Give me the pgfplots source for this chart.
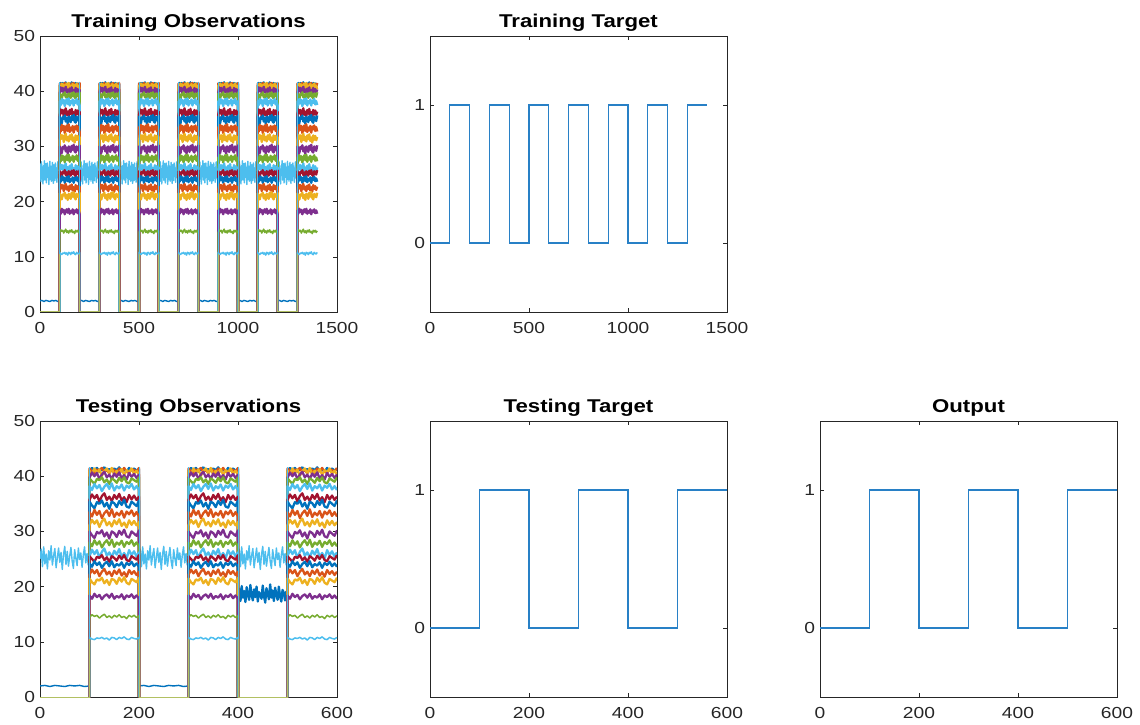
\documentclass[border=0pt]{standalone}
\usepackage{pgfplots}
\pgfplotsset{compat=1.18}
\usepackage{pgfplotstable}
\usepackage{fontspec}
\setmainfont{Liberation Sans}[FakeStretch=1.2]
\definecolor{mB}{RGB}{0,114,189}
\definecolor{mO}{RGB}{217,83,25}
\definecolor{mY}{RGB}{237,177,32}
\definecolor{mP}{RGB}{126,47,142}
\definecolor{mG}{RGB}{119,172,48}
\definecolor{mL}{RGB}{77,190,238}
\definecolor{mR}{RGB}{162,20,47}
\definecolor{axc}{RGB}{38,38,38}
\definecolor{olv}{RGB}{178,192,98}
\definecolor{tgt}{RGB}{40,128,198}

% one "on" segment (x offset 0..100), 20 series
\pgfplotstableread{
x s1 s2 s3 s4 s5 s6 s7 s8 s9 s10 s11 s12 s13 s14 s15 s16 s17 s18 s19 s20
0 2 0 0 0 0 0 0 0 0 0 0 0 25.0 0 0 0 0 0 0 0
0 41.0 41.4 41.0 39.7 39.6 38.2 35.7 35.4 33.5 31.1 30.0 28.0 25.5 25.5 24.2 22.1 21.5 18.4 14.4 10.8
5 41.5 40.9 40.3 40.7 39.1 37.5 36.7 34.7 32.7 32.1 29.3 27.3 26.7 25.0 23.6 23.1 20.8 17.8 14.9 10.5
10 41.1 40.5 41.4 40.0 38.6 38.6 36.0 34.2 33.9 31.4 28.8 28.4 25.9 24.5 24.6 22.4 20.4 18.7 14.6 10.4
15 41.5 41.2 40.6 40.6 39.5 37.8 36.6 35.3 33.0 32.0 29.9 27.6 26.6 25.4 23.9 23.0 21.3 18.1 14.8 10.7
20 40.8 41.1 41.2 39.5 39.3 38.4 35.4 35.0 33.7 30.8 29.6 28.2 25.2 25.2 24.4 21.9 21.1 18.5 14.3 10.6
25 41.3 41.5 40.1 40.3 39.8 37.3 36.4 35.6 32.4 31.8 30.2 27.1 26.3 25.7 23.4 22.7 21.6 17.7 14.7 10.8
30 41.6 40.7 40.9 40.8 38.9 38.1 36.9 34.5 33.3 32.3 29.1 27.9 26.9 24.8 24.1 23.2 20.6 18.3 15.0 10.5
35 41.0 41.2 41.4 39.8 39.4 38.6 35.7 35.2 33.8 31.1 29.8 28.4 25.6 25.3 24.5 22.2 21.2 18.6 14.4 10.7
40 41.3 40.5 40.5 40.3 38.6 37.7 36.3 34.1 32.8 31.7 28.7 27.5 26.2 24.5 23.7 22.7 20.3 18.0 14.7 10.3
45 40.9 41.3 41.5 39.5 39.6 38.7 35.5 35.4 34.0 30.9 30.0 28.5 25.3 25.5 24.6 21.9 21.4 18.7 14.3 10.8
50 41.4 41.1 40.2 40.5 39.3 37.4 36.6 35.1 32.6 32.0 29.7 27.2 26.5 25.2 23.5 22.9 21.2 17.8 14.8 10.7
55 41.1 40.6 41.0 39.9 38.8 38.2 35.9 34.4 33.4 31.3 29.0 28.0 25.8 24.7 24.1 22.3 20.5 18.3 14.5 10.4
60 41.6 41.4 40.6 40.7 39.7 37.8 36.8 35.5 32.9 32.2 30.1 27.6 26.8 25.6 23.8 23.1 21.6 18.0 14.9 10.8
65 40.9 40.9 41.3 39.6 39.1 38.5 35.6 34.8 33.7 31.0 29.4 28.3 25.4 25.0 24.4 22.0 20.9 18.6 14.4 10.6
70 41.2 41.5 40.2 40.2 39.8 37.4 36.2 35.7 32.5 31.6 30.3 27.2 26.1 25.7 23.4 22.6 21.7 17.7 14.6 10.9
75 40.8 40.8 41.1 39.4 38.9 38.3 35.3 34.5 33.6 30.7 29.1 28.1 25.1 24.8 24.3 21.8 20.7 18.4 14.2 10.5
80 41.5 40.6 40.7 40.6 38.7 37.9 36.6 34.3 33.1 32.0 28.9 27.7 26.6 24.6 23.9 23.0 20.4 18.1 14.8 10.4
85 41.0 41.3 41.4 39.9 39.6 38.6 35.8 35.4 33.8 31.2 30.0 28.4 25.7 25.5 24.5 22.3 21.4 18.6 14.5 10.8
90 41.4 41.1 40.4 40.4 39.3 37.6 36.5 35.0 32.8 31.9 29.6 27.4 26.4 25.2 23.7 22.8 21.1 17.9 14.8 10.6
95 41.0 40.8 41.0 39.7 39.0 38.2 35.7 34.6 33.5 31.1 29.2 28.0 25.5 24.9 24.2 22.1 20.8 18.4 14.4 10.5
100 41.3 41.5 40.3 40.3 39.8 37.5 36.3 35.6 32.7 31.7 30.2 27.3 26.2 25.7 23.6 22.7 21.6 17.8 14.7 10.8
100 2 0 0 0 0 0 0 0 0 0 0 0 25.0 0 0 0 0 0 0 0
}\TonSeg

% light-blue noisy series in an "off" segment
\pgfplotstableread{
x v
0 25.0
2.5 26.8
5 23.6
7.5 27.2
10 24.1
12.5 25.9
15 23.2
17.5 26.5
20 24.8
22.5 27.4
25 23.9
27.5 25.6
30 26.9
32.5 23.4
35 25.2
37.5 27.0
40 24.4
42.5 26.2
45 23.1
47.5 25.8
50 27.3
52.5 24.0
55 26.4
57.5 23.7
60 25.5
62.5 27.1
65 24.6
67.5 23.3
70 26.7
72.5 25.1
75 23.8
77.5 27.0
80 24.9
82.5 26.1
85 23.5
87.5 25.7
90 27.2
92.5 24.3
95 26.0
97.5 23.9
100 25.0
}\TofLB

% blue series near 2 in an "off" segment
\pgfplotstableread{
x v
0 2.0
10 2.1
20 1.9
30 2.1
40 2.0
50 1.9
60 2.1
70 2.0
80 2.1
90 1.9
100 2.0
}\TofB

% testing 400-500: blue series near 18.5
\pgfplotstableread{
x v
0 18.2
2.5 19.6
5 17.4
7.5 20.1
10 18.0
12.5 19.2
15 17.2
17.5 19.9
20 18.6
22.5 17.6
25 20.3
27.5 18.4
30 17.5
32.5 19.5
35 18.1
37.5 20.0
40 17.3
42.5 19.0
45 18.5
47.5 17.8
50 20.2
52.5 18.3
55 17.1
57.5 19.7
60 18.8
62.5 17.7
65 20.4
67.5 18.0
70 19.3
72.5 17.4
75 19.8
77.5 18.6
80 17.6
82.5 20.0
85 18.2
87.5 17.3
90 19.4
92.5 18.9
95 17.5
97.5 19.1
100 18.4
}\TAnom

\pgfplotsset{
  bs/.style={line width=2.3pt, line join=round},
  bt/.style={line width=1.5pt, line join=round},
  ns/.style={line width=1.4pt, line join=round},
  es/.style={line width=1pt},
  base/.style={
    scale only axis, width=297pt, height=276pt, anchor=south west,
    axis line style={axc, line width=0.8pt},
    tick style={axc, line width=0.6pt},
    tick align=inside, major tick length=4pt,
    ticklabel style={font=\fontsize{16}{18}\selectfont, text=axc},
    /pgf/number format/assume math mode=true,
    /pgf/number format/1000 sep={},
    scaled ticks=false,
    xticklabel style={yshift=-7pt},
    yticklabel style={xshift=-1.5pt},
    title style={font=\fontsize{18.5}{22}\selectfont\bfseries, text=black,
      at={(0.5,1)}, anchor=south, yshift=-2pt, inner sep=0pt},
    clip=true,
  },
}

\newcommand{\bands}[2]{%
  \addplot[mB,bs,#2] table[x expr=\thisrow{x}+#1,y=s1]{\TonSeg};
  \addplot[mO,bs,#2] table[x expr=\thisrow{x}+#1,y=s2]{\TonSeg};
  \addplot[mY,bs,#2] table[x expr=\thisrow{x}+#1,y=s3]{\TonSeg};
  \addplot[mP,bs,#2] table[x expr=\thisrow{x}+#1,y=s4]{\TonSeg};
  \addplot[mG,bs,#2] table[x expr=\thisrow{x}+#1,y=s5]{\TonSeg};
  \addplot[mL,bs,#2] table[x expr=\thisrow{x}+#1,y=s6]{\TonSeg};
  \addplot[mR,bs,#2] table[x expr=\thisrow{x}+#1,y=s7]{\TonSeg};
  \addplot[mB,bs,#2] table[x expr=\thisrow{x}+#1,y=s8]{\TonSeg};
  \addplot[mO,bs,#2] table[x expr=\thisrow{x}+#1,y=s9]{\TonSeg};
  \addplot[mY,bs,#2] table[x expr=\thisrow{x}+#1,y=s10]{\TonSeg};
  \addplot[mP,bs,#2] table[x expr=\thisrow{x}+#1,y=s11]{\TonSeg};
  \addplot[mG,bs,#2] table[x expr=\thisrow{x}+#1,y=s12]{\TonSeg};
  \addplot[mL,bs,#2] table[x expr=\thisrow{x}+#1,y=s13]{\TonSeg};
  \addplot[mR,bs,#2] table[x expr=\thisrow{x}+#1,y=s14]{\TonSeg};
  \addplot[mB,bs,#2] table[x expr=\thisrow{x}+#1,y=s15]{\TonSeg};
  \addplot[mO,bs,#2] table[x expr=\thisrow{x}+#1,y=s16]{\TonSeg};
  \addplot[mY,bs,#2] table[x expr=\thisrow{x}+#1,y=s17]{\TonSeg};
  \addplot[mP,bs,#2] table[x expr=\thisrow{x}+#1,y=s18]{\TonSeg};
  \addplot[mG,bt,#2] table[x expr=\thisrow{x}+#1,y=s19]{\TonSeg};
  \addplot[mL,bt,#2] table[x expr=\thisrow{x}+#1,y=s20]{\TonSeg};
}
\newcommand{\offseg}[1]{%
  \addplot[mL,ns] table[x expr=\thisrow{x}+#1,y=v]{\TofLB};
}
\newcommand{\offblue}[1]{%
  \addplot[mB,ns] table[x expr=\thisrow{x}+#1,y=v]{\TofB};
}

\begin{document}
\begin{tikzpicture}
\path[use as bounding box] (0pt,0pt) rectangle (1140pt,724pt);

% ---------------- Training Observations
\begin{axis}[base, at={(40pt,412pt)}, xmin=0, xmax=1500, ymin=0, ymax=50,
  xtick={0,500,1000,1500}, ytick={0,10,20,30,40,50},
  title={Training Observations}]
  \offseg{0}\offseg{200}\offseg{400}\offseg{600}\offseg{800}\offseg{1000}\offseg{1200}
  \offblue{0}\offblue{200}\offblue{400}\offblue{600}\offblue{800}\offblue{1000}\offblue{1200}
  \bands{100}{}\bands{300}{}\bands{500}{}\bands{700}{}\bands{900}{}\bands{1100}{}
  \bands{1300}{skip coords between index={22}{23}}
  \addplot[olv,es,unbounded coords=jump] coordinates {
    (0,0)(100,0)(100,10.5)(150,nan)(200,10.5)(200,0)(300,0)(300,10.5)(350,nan)
    (400,10.5)(400,0)(500,0)(500,10.5)(550,nan)(600,10.5)(600,0)(700,0)(700,10.5)(750,nan)
    (800,10.5)(800,0)(900,0)(900,10.5)(950,nan)(1000,10.5)(1000,0)(1100,0)(1100,10.5)(1150,nan)
    (1200,10.5)(1200,0)(1300,0)(1300,10.5)};
  \addplot[mL,es,unbounded coords=jump] coordinates {
    (100,10.5)(100,41.6)(150,nan)(200,41.6)(200,10.5)(250,nan)
    (300,10.5)(300,41.6)(350,nan)(400,41.6)(400,10.5)(450,nan)
    (500,10.5)(500,41.6)(550,nan)(600,41.6)(600,10.5)(650,nan)
    (700,10.5)(700,41.6)(750,nan)(800,41.6)(800,10.5)(850,nan)
    (900,10.5)(900,41.6)(950,nan)(1000,41.6)(1000,10.5)(1050,nan)
    (1100,10.5)(1100,41.6)(1150,nan)(1200,41.6)(1200,10.5)(1250,nan)
    (1300,10.5)(1300,41.6)};
\end{axis}

% ---------------- Training Target
\begin{axis}[base, at={(430pt,412pt)}, xmin=0, xmax=1500, ymin=-0.5, ymax=1.5,
  xtick={0,500,1000,1500}, ytick={0,1}, title={Training Target}]
  \addplot[tgt, line width=1.1pt, const plot] coordinates {
    (0,0)(100,1)(200,0)(300,1)(400,0)(500,1)(600,0)(700,1)
    (800,0)(900,1)(1000,0)(1100,1)(1200,0)(1300,1)(1400,1)};
\end{axis}

% ---------------- Testing Observations
\begin{axis}[base, at={(40pt,27pt)}, xmin=0, xmax=600, ymin=0, ymax=50,
  xtick={0,200,400,600}, ytick={0,10,20,30,40,50},
  title={Testing Observations}]
  \offseg{0}\offseg{200}\offseg{400}
  \offblue{0}\offblue{200}
  \addplot[mB,bs] table[x expr=\thisrow{x}+400,y=v]{\TAnom};
  \bands{100}{}\bands{300}{}
  \bands{500}{skip coords between index={22}{23}}
  \addplot[olv,es,unbounded coords=jump] coordinates {
    (0,0)(100,0)(100,10.5)(150,nan)(200,10.5)(200,0)(300,0)(300,10.5)(350,nan)
    (400,10.5)(400,0)(500,0)(500,10.5)};
  \addplot[mL,es,unbounded coords=jump] coordinates {
    (100,10.5)(100,41.6)(150,nan)(200,41.6)(200,10.5)(250,nan)
    (300,10.5)(300,41.6)(350,nan)(400,41.6)(400,10.5)(450,nan)
    (500,10.5)(500,41.6)};
\end{axis}

% ---------------- Testing Target
\begin{axis}[base, at={(430pt,27pt)}, xmin=0, xmax=600, ymin=-0.5, ymax=1.5,
  xtick={0,200,400,600}, ytick={0,1}, title={Testing Target}]
  \addplot[tgt, line width=1.1pt, const plot] coordinates {
    (0,0)(100,1)(200,0)(300,1)(400,0)(500,1)(600,1)};
\end{axis}

% ---------------- Output
\begin{axis}[base, at={(820pt,27pt)}, xmin=0, xmax=600, ymin=-0.5, ymax=1.5,
  xtick={0,200,400,600}, ytick={0,1}, title={Output}]
  \addplot[tgt, line width=1.1pt, const plot] coordinates {
    (0,0)(100,1)(200,0)(300,1)(400,0)(500,1)(600,1)};
\end{axis}
\end{tikzpicture}
\end{document}
